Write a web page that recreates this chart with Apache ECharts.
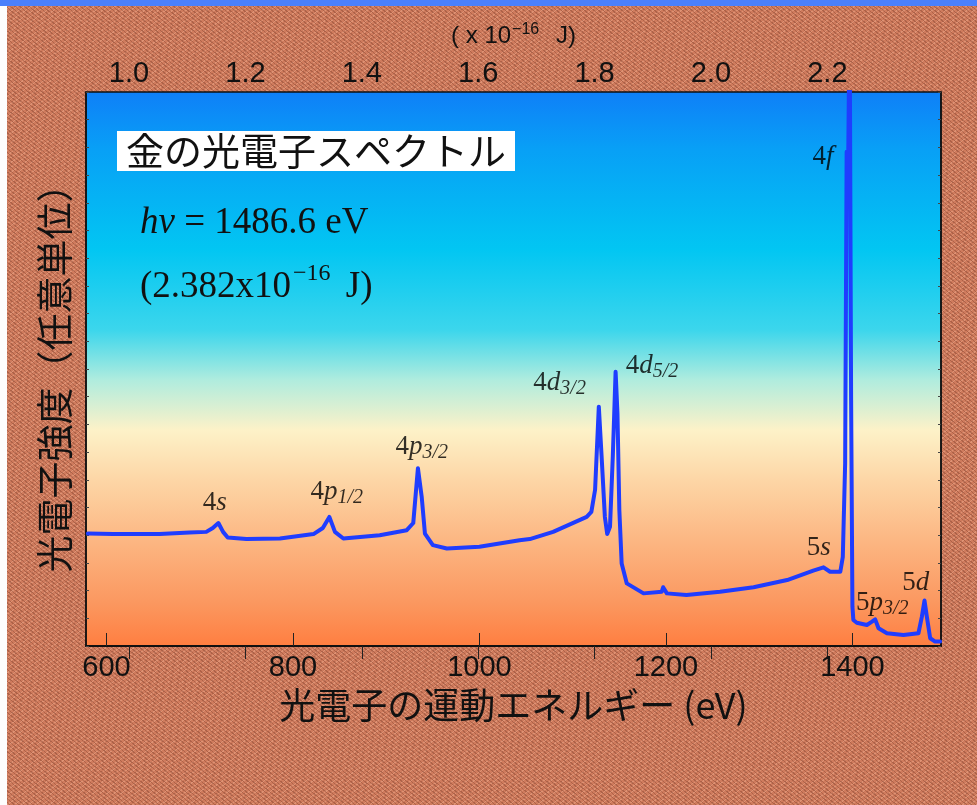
<!DOCTYPE html>
<html>
<head>
<meta charset="utf-8">
<script src="https://cdn.jsdelivr.net/npm/echarts@6/dist/echarts.min.js"></script>
<style>
  html, body { margin: 0; padding: 0; }
  #wrap {
    position: relative; width: 977px; height: 805px; overflow: hidden;
    background-color: #cf7b5d;
    background-image:
      repeating-linear-gradient(40deg, rgba(105,45,28,0.33) 0px, rgba(105,45,28,0.33) 1px, transparent 1px, transparent 3px),
      repeating-linear-gradient(-35deg, rgba(255,195,165,0.33) 0px, rgba(255,195,165,0.33) 1px, transparent 1px, transparent 4px);
  }
  #topbar { position: absolute; left: 0; top: 0; width: 977px; height: 6px; background: #4b80fb; }
  #leftbar { position: absolute; left: 0; top: 6px; width: 7px; height: 799px; background: #fdfdfd; }
  #chart { position: absolute; left: 0; top: 0; width: 977px; height: 805px; }
</style>
</head>
<body>
<div id="wrap">
  <div id="topbar"></div>
  <div id="leftbar"></div>
  <div id="chart"></div>
</div>
<script>
// ---- data ----
const kineticEnergy = [580, 607, 657, 689, 707, 714, 720, 725, 730, 750, 786, 822, 832, 839, 845, 854, 893, 922, 929, 934, 938, 941.5, 950, 965, 1000, 1043, 1054, 1079, 1115, 1120, 1124, 1128, 1131, 1134.5, 1137, 1140, 1143, 1146, 1148, 1150, 1152.5, 1158, 1176, 1195.5, 1197, 1201, 1222, 1258, 1294, 1330, 1358, 1369, 1376, 1387, 1389.7, 1392.2, 1393.8, 1395.4, 1397, 1398.6, 1400, 1401, 1404.7, 1415.5, 1421, 1424.4, 1428, 1437, 1454.7, 1470.8, 1474.5, 1477.3, 1479.8, 1483.4, 1488.7, 1494];
const intensity = [20.3, 20.2, 20.2, 20.5, 20.6, 21.3, 22.2, 20.6, 19.6, 19.3, 19.4, 20.2, 21.3, 23.3, 20.6, 19.4, 20.0, 20.9, 22.2, 32.1, 27.0, 20.3, 18.2, 17.6, 17.9, 19.1, 19.3, 20.6, 23.3, 24.2, 28.2, 43.2, 34.2, 23.3, 20.2, 21.5, 34.2, 49.5, 42.0, 24.6, 14.9, 11.3, 9.5, 9.8, 10.6, 9.5, 9.2, 9.8, 10.6, 11.9, 13.6, 14.2, 13.4, 13.4, 16.1, 33.0, 89.2, 86.0, 115, 44.4, 7.1, 4.7, 4.2, 3.8, 4.4, 4.8, 3.2, 2.3, 2.0, 2.3, 5.3, 8.2, 5.3, 1.4, 0.8, 0.8];

const bottomTicks = [600, 800, 1000, 1200, 1400];
const topTicks = [1.0, 1.2, 1.4, 1.6, 1.8, 2.0, 2.2];

const peakNumber = ['4', '4', '4', '4', '4', '4', '5', '5', '5'];
const peakLetter = ['s', 'p', 'p', 'd', 'd', 'f', 's', 'p', 'd'];
const peakSub    = ['', '1/2', '3/2', '3/2', '5/2', '', '', '3/2', ''];
const labelKE    = [716, 847, 938, 1086, 1185, 1368.5, 1364, 1432, 1468];
const labelI     = [25.8, 27.8, 35.9, 47.5, 50.5, 88.3, 17.7, 7.8, 11.4];

const xMin = 578, xMax = 1495;
const EV_TO_1E16J = 1.602176634e-19 / 1e-16;

const serif = '"Liberation Serif", "Times New Roman", serif';
const sans = '"Liberation Sans", Arial, sans-serif';
const cjk = '"Noto Sans CJK JP", sans-serif';

const lineData = kineticEnergy.map((e, i) => [e, intensity[i]]);
const labelData = labelKE.map((e, i) => ({ value: [e, labelI[i]], idx: i }));

const chart = echarts.init(document.getElementById('chart'), null, { renderer: 'canvas' });

const plotGradient = new echarts.graphic.LinearGradient(0, 0, 0, 1, [
  { offset: 0.00, color: '#0f7ff8' },
  { offset: 0.105, color: '#08a0f6' },
  { offset: 0.285, color: '#02c6f2' },
  { offset: 0.43, color: '#3cd6ec' },
  { offset: 0.52, color: '#b0ecde' },
  { offset: 0.61, color: '#fdf2c8' },
  { offset: 0.70, color: '#fdd6a6' },
  { offset: 0.81, color: '#fcb682' },
  { offset: 0.92, color: '#fb9860' },
  { offset: 1.00, color: '#ff7e40' }
]);

const option = {
  backgroundColor: 'transparent',
  animation: false,
  title: [
    {
      text: '金の光電子スペクトル',
      left: 117, top: 131,
      backgroundColor: '#ffffff',
      padding: [1, 9, 1, 9],
      textStyle: { fontFamily: cjk, fontSize: 38, fontWeight: 'normal', color: '#111', lineHeight: 38 }
    },
    {
      text: '{i|hν}{n| = 1486.6 eV}',
      left: 140, top: 203, padding: 0,
      textStyle: {
        fontWeight: 'normal',
        rich: {
          i: { fontFamily: serif, fontStyle: 'italic', fontWeight: 'normal', fontSize: 37, color: '#111', lineHeight: 40 },
          n: { fontFamily: serif, fontWeight: 'normal', fontSize: 37, color: '#111', lineHeight: 40 }
        }
      }
    },
    {
      text: '{n|(2.382x10}{s|−16}{n| J)}',
      left: 140, top: 262, padding: 0,
      textStyle: {
        fontWeight: 'normal',
        rich: {
          n: { fontFamily: serif, fontWeight: 'normal', fontSize: 37, color: '#111', lineHeight: 50 },
          s: { fontFamily: serif, fontWeight: 'normal', fontSize: 24, color: '#111', lineHeight: 12, verticalAlign: 'top', padding: [0, 6, 0, 2] }
        }
      }
    }
  ],
  grid: {
    left: 86, top: 92, right: 36, bottom: 159,
    show: true,
    backgroundColor: plotGradient,
    borderColor: '#111', borderWidth: 1.5
  },
  xAxis: [
    {
      type: 'value', position: 'bottom', min: xMin, max: xMax,
      splitLine: { show: false },
      axisLine: { show: true, lineStyle: { color: '#111', width: 1.5 } },
      axisTick: { show: true, inside: true, length: 13, customValues: bottomTicks, lineStyle: { color: '#222', width: 1 } },
      axisLabel: { show: true, customValues: bottomTicks, margin: 7, fontFamily: sans, fontSize: 29, color: '#111',
                   formatter: v => String(v) },
      name: '光電子の運動エネルギー (eV)',
      nameLocation: 'middle', nameGap: 40,
      nameTextStyle: { fontFamily: cjk, fontSize: 36, color: '#111' }
    },
    {
      type: 'value', position: 'top', min: xMin * EV_TO_1E16J, max: xMax * EV_TO_1E16J,
      splitLine: { show: false },
      axisLine: { show: true, lineStyle: { color: '#111', width: 1.5 } },
      axisTick: { show: true, inside: true, length: 13, customValues: topTicks, lineStyle: { color: '#222', width: 1 } },
      axisLabel: { show: true, customValues: topTicks, margin: 4, fontFamily: sans, fontSize: 29, color: '#111',
                   formatter: v => v.toFixed(1) },
      name: '{n|( x 10}{s|−16}{n| J)}',
      nameLocation: 'middle', nameGap: 42,
      nameTextStyle: {
        rich: {
          n: { fontFamily: sans, fontSize: 24, color: '#111', lineHeight: 28 },
          s: { fontFamily: sans, fontSize: 16, color: '#111', lineHeight: 10, verticalAlign: 'top', padding: [0, 10, 0, 1] }
        }
      }
    }
  ],
  yAxis: [
    {
      type: 'value', position: 'left', min: 0, max: 100, interval: 5,
      splitLine: { show: false },
      axisLine: { show: true, lineStyle: { color: '#111', width: 1.5 } },
      axisTick: { show: true, inside: true, length: 3, lineStyle: { color: '#444' } },
      axisLabel: { show: false },
      name: '光電子強度（任意単位）',
      nameLocation: 'middle', nameRotate: 90, nameGap: 13,
      nameTextStyle: { fontFamily: cjk, fontSize: 37, color: '#111' }
    },
    {
      type: 'value', position: 'right', min: 0, max: 100, interval: 5,
      splitLine: { show: false },
      axisLine: { show: true, lineStyle: { color: '#111', width: 1.5 } },
      axisTick: { show: true, inside: true, length: 3, lineStyle: { color: '#444' } },
      axisLabel: { show: false }
    }
  ],
  series: [
    {
      type: 'line', xAxisIndex: 0, yAxisIndex: 0,
      data: lineData, showSymbol: false, symbol: 'none', clip: true,
      lineStyle: { color: '#1f3dff', width: 4, join: 'round', cap: 'round' },
      silent: true, z: 3
    },
    {
      type: 'scatter', xAxisIndex: 0, yAxisIndex: 0,
      data: labelData, symbolSize: 0, silent: true, z: 4,
      label: {
        show: true, position: 'inside', color: '#000',
        formatter: p => {
          const i = p.data.idx;
          let s = '{n|' + peakNumber[i] + '}{i|' + peakLetter[i] + '}';
          if (peakSub[i]) s += '{sub|' + peakSub[i] + '}';
          return s;
        },
        rich: {
          n: { fontFamily: serif, fontSize: 27, color: '#000', lineHeight: 32 },
          i: { fontFamily: serif, fontStyle: 'italic', fontSize: 27, color: '#000', lineHeight: 32 },
          sub: { fontFamily: serif, fontStyle: 'italic', fontSize: 20, color: '#000', lineHeight: 16, verticalAlign: 'bottom' }
        }
      }
    }
  ]
};

chart.setOption(option);
</script>
</body>
</html>
